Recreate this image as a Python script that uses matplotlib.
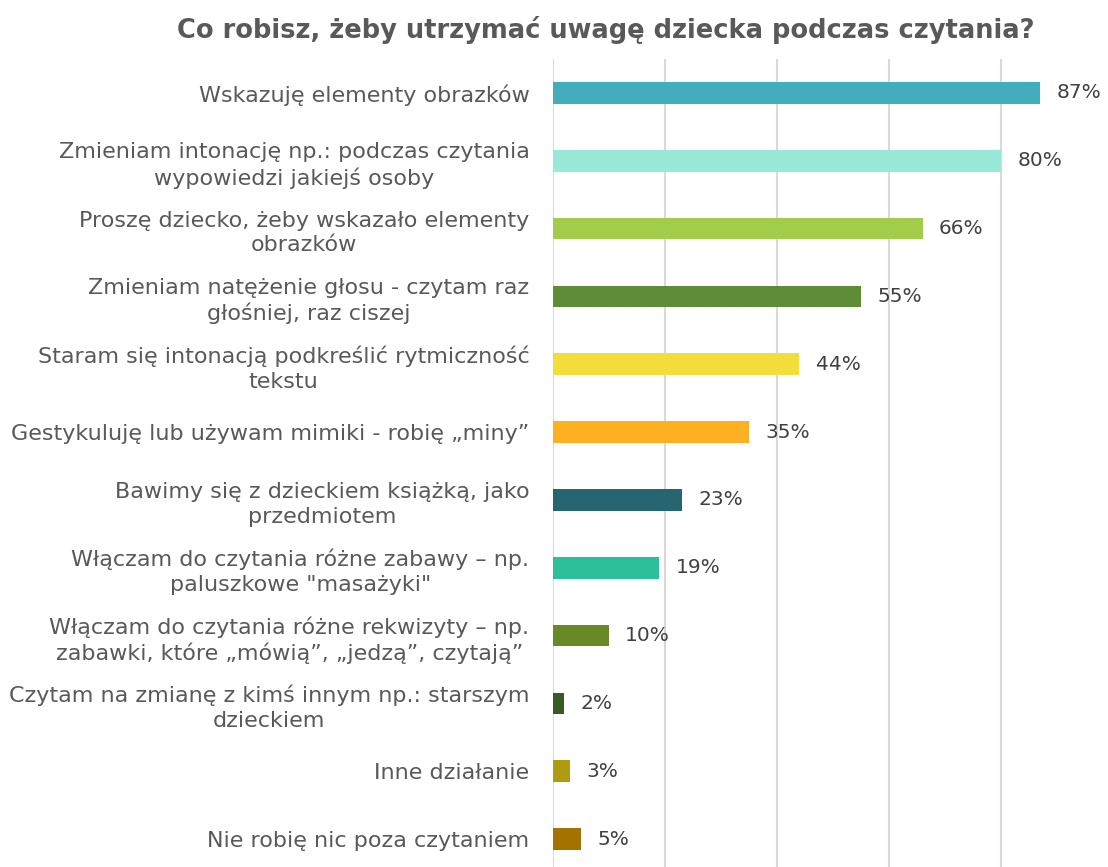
import matplotlib.pyplot as plt

categories = [
    'Wskazuję elementy obrazków',
    'Zmieniam intonację np.: podczas czytania\nwypowiedzi jakiejś osoby',
    'Proszę dziecko, żeby wskazało elementy\nobrazków',
    'Zmieniam natężenie głosu - czytam raz\ngłośniej, raz ciszej',
    'Staram się intonacją podkreślić rytmiczność\ntekstu',
    'Gestykuluję lub używam mimiki - robię „miny”',
    'Bawimy się z dzieckiem książką, jako\nprzedmiotem',
    'Włączam do czytania różne zabawy – np.\npaluszkowe "masażyki"',
    'Włączam do czytania różne rekwizyty – np.\nzabawki, które „mówią”, „jedzą”, czytają”',
    'Czytam na zmianę z kimś innym np.: starszym\ndzieckiem',
    'Inne działanie',
    'Nie robię nic poza czytaniem',
]
values = [87, 80, 66, 55, 44, 35, 23, 19, 10, 2, 3, 5]
colors = ['#41adbd', '#9ae8d8', '#a2cd4b', '#5e8c37', '#f2dd3a', '#fdb022',
          '#256670', '#2bbf9a', '#688a25', '#3b5a23', '#b09b0f', '#a57200']

plt.rcParams['font.family'] = ['DejaVu Sans']

fig = plt.figure(figsize=(11.08, 8.67), dpi=100)
ax = fig.add_axes([553 / 1108, -6 / 867, 560 / 1108, 814 / 867])

y = list(range(len(categories)))
ax.barh(y, values, height=0.32, color=colors, zorder=3)
ax.set_ylim(len(categories) - 0.5, -0.5)
ax.set_xlim(0, 100)

ax.set_yticks(y)
ax.set_yticklabels(categories, fontsize=16, color='#595959',
                   multialignment='center', linespacing=1.3)
ax.tick_params(axis='y', length=0, pad=17)
ax.tick_params(axis='x', length=0, labelbottom=False)

ax.set_xticks([0, 20, 40, 60, 80, 100])
ax.grid(axis='x', color='#d9d9d9', linewidth=1.5, zorder=0)
for s in ax.spines.values():
    s.set_visible(False)

for yi, v in zip(y, values):
    ax.text(v + 2.9, yi, f'{v}%', va='center', ha='left', fontsize=14.5, color='#404040')

fig.text(606 / 1108, 1 - 30 / 867, 'Co robisz, żeby utrzymać uwagę dziecka podczas czytania?',
         ha='center', va='center', fontsize=18.5, fontweight='bold', color='#595959')

fig.savefig('out.png', dpi=100)
